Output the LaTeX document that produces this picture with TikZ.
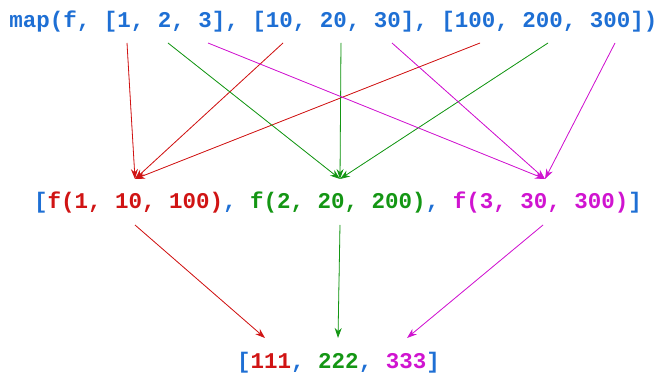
\documentclass[tikz,border=0pt]{standalone}
\usepackage{fontspec}
\setmonofont{Liberation Mono}
\usetikzlibrary{arrows.meta}
\definecolor{cblue}{HTML}{1E6FD4}
\definecolor{cred}{HTML}{D01414}
\definecolor{cgreen}{HTML}{149614}
\definecolor{cmag}{HTML}{D014D0}
\frenchspacing
\begin{document}
\begin{tikzpicture}[x=1pt,y=-1pt,
  txt/.style={inner sep=0pt, anchor=base, font=\ttfamily\bfseries\fontsize{22.5}{27}\selectfont},
  arr/.style={line width=0.8pt, -{Stealth[length=10pt,width=7pt]}},
  rarr/.style={arr, draw=cred, fill=cred},
  garr/.style={arr, draw=cgreen, fill=cgreen},
  marr/.style={arr, draw=cmag, fill=cmag}]
\useasboundingbox (0,0) rectangle (662,374);
% texts
\node[txt, text=cblue] (top) at (333.5,28) {map(f, [1, 2, 3], [10, 20, 30], [100, 200, 300])};
\node[txt] (mid) at (338,209) {\textcolor{cblue}{[}\textcolor{cred}{f(1, 10, 100)}\textcolor{cblue}{,} \textcolor{cgreen}{f(2, 20, 200)}\textcolor{cblue}{,} \textcolor{cmag}{f(3, 30, 300)}\textcolor{cblue}{]}};
\node[txt] (bot) at (338.5,368) {\textcolor{cblue}{[}\textcolor{cred}{111}\textcolor{cblue}{,} \textcolor{cgreen}{222}\textcolor{cblue}{,} \textcolor{cmag}{333}\textcolor{cblue}{]}};
% connector ends
\coordinate (t1) at (127,43);
\coordinate (t2) at (168,43);
\coordinate (t3) at (208,43);
\coordinate (t10) at (283,43);
\coordinate (t20) at (341,43);
\coordinate (t30) at (392,43);
\coordinate (t100) at (480,43);
\coordinate (t200) at (548,43);
\coordinate (t300) at (615,43);
\coordinate (mr) at (135,179);
\coordinate (mg) at (340,179);
\coordinate (mm) at (545,179);
\coordinate (sr) at (135,225);
\coordinate (sg) at (340,225);
\coordinate (sm) at (543,225);
\coordinate (br) at (265,338);
\coordinate (bg) at (338,338);
\coordinate (bm) at (407,338);
% top to middle
\draw[rarr] (t1) -- (mr);
\draw[rarr] (t10) -- (mr);
\draw[rarr] (t100) -- (mr);
\draw[garr] (t2) -- (mg);
\draw[garr] (t20) -- (mg);
\draw[garr] (t200) -- (mg);
\draw[marr] (t3) -- (mm);
\draw[marr] (t30) -- (mm);
\draw[marr] (t300) -- (mm);
% middle to bottom
\draw[rarr] (sr) -- (br);
\draw[garr] (sg) -- (bg);
\draw[marr] (sm) -- (bm);
\end{tikzpicture}
\end{document}
